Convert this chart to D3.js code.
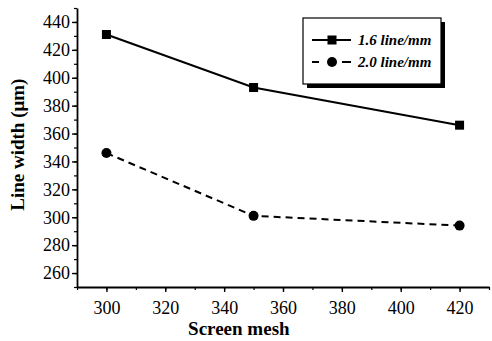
<!DOCTYPE html>
<html>
<head>
<meta charset="utf-8">
<script src="https://cdn.jsdelivr.net/npm/d3@7"></script>
<style>
  body { margin: 0; background: #fff; }
  svg text { font-family: 'Liberation Serif', 'Times New Roman', serif; fill: #000; }
</style>
</head>
<body>
<div id="chart"></div>
<script>
// ── Line width vs screen mesh, two line densities ──
const meshes   = [300, 350, 420];
const width16  = [431, 393, 366];   // 1.6 line/mm (squares)
const width20  = [346, 301, 294];   // 2.0 line/mm (circles)
const xTicks   = [300, 320, 340, 360, 380, 400, 420];
const yTicks   = [260, 280, 300, 320, 340, 360, 380, 400, 420, 440];
const seriesLabels = ["1.6 line/mm", "2.0 line/mm"];

const W = 492, H = 341;
const margin = { top: 8, right: 3, bottom: 54, left: 77 };
const innerW = W - margin.left - margin.right;
const innerH = H - margin.top - margin.bottom;
const serif = "'Liberation Serif', 'Times New Roman', serif";

const svg = d3.select("#chart").append("svg")
    .attr("width", W).attr("height", H);
const g = svg.append("g").attr("transform", `translate(${margin.left},${margin.top})`);

const x = d3.scaleLinear().domain([290, 430]).range([0, innerW]);
const y = d3.scaleLinear().domain([250, 450]).range([innerH, 0]);

// minor ticks
g.append("g").attr("transform", `translate(0,${innerH})`)
    .call(d3.axisBottom(x).tickValues(d3.range(290, 431, 10)).tickSize(3).tickFormat(""))
    .call(a => a.select(".domain").remove())
    .selectAll("line").attr("stroke-width", 1.2);
g.append("g")
    .call(d3.axisLeft(y).tickValues(d3.range(250, 451, 10)).tickSize(3).tickFormat(""))
    .call(a => a.select(".domain").remove())
    .selectAll("line").attr("stroke-width", 1.2);

// major axes
const xAxis = g.append("g").attr("transform", `translate(0,${innerH})`)
    .call(d3.axisBottom(x).tickValues(xTicks).tickSize(5).tickSizeOuter(0).tickPadding(9));
const yAxis = g.append("g")
    .call(d3.axisLeft(y).tickValues(yTicks).tickSize(5).tickSizeOuter(0).tickPadding(2));
[xAxis, yAxis].forEach(a => {
    a.attr("font-family", serif).attr("font-size", 18);
    a.select(".domain").attr("stroke-width", 1.8);
    a.selectAll("line").attr("stroke-width", 1.4);
    a.selectAll("text").style("font-family", serif).style("font-size", "18px");
});

// axis titles
g.append("text").attr("x", x(345)).attr("y", innerH + 48)
    .attr("text-anchor", "middle").style("font-size", "19px").style("font-weight", "bold")
    .text("Screen mesh");
g.append("text").attr("transform", "rotate(-90)")
    .attr("x", -y(352)).attr("y", -53)
    .attr("text-anchor", "middle").style("font-size", "19px").style("font-weight", "bold")
    .text("Line width (μm)");

const line = d3.line().x(d => x(d[0])).y(d => y(d[1]));
const s16 = meshes.map((m, i) => [m, width16[i]]);
const s20 = meshes.map((m, i) => [m, width20[i]]);

g.append("path").datum(s16).attr("fill", "none").attr("stroke", "#000")
    .attr("stroke-width", 2).attr("d", line);
g.append("path").datum(s20).attr("fill", "none").attr("stroke", "#000")
    .attr("stroke-width", 2).attr("stroke-dasharray", "7,5").attr("d", line);

g.selectAll(".sq").data(s16).join("rect")
    .attr("x", d => x(d[0]) - 4.5).attr("y", d => y(d[1]) - 4.5)
    .attr("width", 9).attr("height", 9).attr("fill", "#000");
g.selectAll(".ci").data(s20).join("circle")
    .attr("cx", d => x(d[0])).attr("cy", d => y(d[1])).attr("r", 5).attr("fill", "#000");

// legend with drop shadow
const lg = svg.append("g").attr("transform", "translate(303,18)");
lg.append("rect").attr("x", 4).attr("y", 4).attr("width", 138).attr("height", 66).attr("fill", "#000");
lg.append("rect").attr("width", 138).attr("height", 66).attr("fill", "#fff")
    .attr("stroke", "#000").attr("stroke-width", 1.2);
seriesLabels.forEach((lab, i) => {
    const ry = 22 + i * 22;
    const row = lg.append("g").attr("transform", `translate(0,${ry})`);
    row.append("line").attr("x1", 9).attr("x2", 48).attr("y1", 0).attr("y2", 0)
        .attr("stroke", "#000").attr("stroke-width", 2)
        .attr("stroke-dasharray", i === 1 ? "7,9,7" : null);
    if (i === 0) row.append("rect").attr("x", 24.5).attr("y", -4.5).attr("width", 9).attr("height", 9);
    else row.append("circle").attr("cx", 29).attr("cy", 0).attr("r", 5);
    row.append("text").attr("x", 55).attr("y", 5)
        .style("font-size", "15px").style("font-weight", "bold").style("font-style", "italic")
        .text(lab);
});
</script>
</body>
</html>
